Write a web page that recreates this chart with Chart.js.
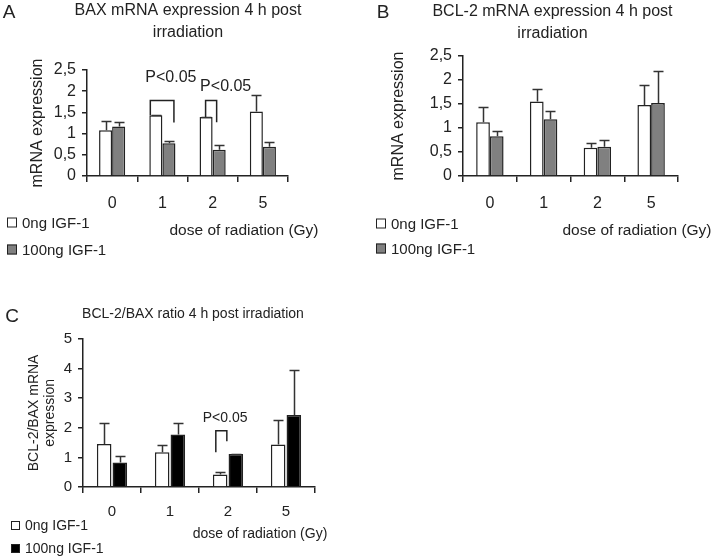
<!DOCTYPE html>
<html>
<head>
<meta charset="utf-8">
<script src="https://cdn.jsdelivr.net/npm/chart.js@4"></script>
<style>
    body { margin: 0; width: 716px; height: 557px; overflow: hidden; background: #fff; position: relative;
           font-family: "Liberation Sans", Arial, sans-serif; color: #222; }
    canvas { position: absolute; }
    .txt { position: absolute; white-space: nowrap; line-height: 1; transform: translate(-50%, -50%); }
    .leg { position: absolute; white-space: nowrap; line-height: 1; transform: translateY(-50%); }
    .box { display: inline-block; width: 8px; height: 8px; border: 1px solid #222; margin-right: 5px; vertical-align: 0; }
</style>
</head>
<body>
<canvas id="chartA" width="376" height="280" style="left:0;top:0"></canvas>
<canvas id="chartB" width="385" height="280" style="left:360px;top:0"></canvas>
<canvas id="chartC" width="386" height="277" style="left:0;top:280px"></canvas>

<div class="txt" style="left:9px;top:11px;font-size:19px">A</div>
<div class="txt" style="left:383px;top:11px;font-size:19px">B</div>
<div class="txt" style="left:12px;top:315px;font-size:19px">C</div>

<div class="leg" style="left:7px;top:222px;font-size:15px"><span class="box"></span>0ng IGF-1</div>
<div class="leg" style="left:7px;top:249px;font-size:15px"><span class="box" style="background:#808080"></span>100ng IGF-1</div>
<div class="txt" style="left:244px;top:230px;font-size:15.5px">dose of radiation (Gy)</div>

<div class="leg" style="left:376px;top:223px;font-size:15px"><span class="box"></span>0ng IGF-1</div>
<div class="leg" style="left:376px;top:248px;font-size:15px"><span class="box" style="background:#808080"></span>100ng IGF-1</div>
<div class="txt" style="left:637px;top:230px;font-size:15.5px">dose of radiation (Gy)</div>

<div class="leg" style="left:11px;top:525px;font-size:14px"><span class="box" style="width:7px;height:7px"></span>0ng IGF-1</div>
<div class="leg" style="left:11px;top:548px;font-size:14px"><span class="box" style="width:7px;height:7px;background:#000"></span>100ng IGF-1</div>
<div class="txt" style="left:260px;top:533px;font-size:14px">dose of radiation (Gy)</div>

<script>
// data
const categories = ['0', '1', '2', '5'];
const seriesNames = ['0ng IGF-1', '100ng IGF-1'];

const baxControl = [1.08, 1.43, 1.39, 1.52];
const baxControlSd = [0.22, 0.02, 0.01, 0.38];
const baxIgf = [1.17, 0.77, 0.62, 0.69];
const baxIgfSd = [0.10, 0.06, 0.11, 0.11];

const bcl2Control = [1.12, 1.55, 0.59, 1.48];
const bcl2ControlSd = [0.31, 0.26, 0.09, 0.42];
const bcl2Igf = [0.83, 1.18, 0.61, 1.52];
const bcl2IgfSd = [0.11, 0.18, 0.15, 0.66];

const ratioControl = [1.45, 1.17, 0.42, 1.43];
const ratioControlSd = [0.72, 0.26, 0.08, 0.84];
const ratioIgf = [0.83, 1.77, 1.11, 2.43];
const ratioIgfSd = [0.20, 0.40, 0.01, 1.51];

const yTicksExpr = ['0', '0,5', '1', '1,5', '2', '2,5'];
const yTicksRatio = ['0', '1', '2', '3', '4', '5'];

// significance brackets: category, x offsets (in category widths), y values of top and legs
const baxBrackets = [
    { cat: 1, from: -0.24, to: 0.23, top: 1.78, left: 1.43, right: 1.26, label: 'P<0.05', lx: 0.17, ly: 2.31 },
    { cat: 2, from: -0.14, to: 0.08, top: 1.78, left: 1.39, right: 1.27, label: 'P<0.05', lx: 0.26, ly: 2.11 }
];
const ratioBrackets = [
    { cat: 2, from: -0.21, to: -0.02, top: 1.90, left: 1.17, right: 1.54, label: 'P<0.05', lx: -0.05, ly: 2.32 }
];

Chart.defaults.font.family = "'Liberation Sans', Arial, sans-serif";
Chart.defaults.color = '#222';

const errorBars = {
    id: 'errorBars',
    afterDatasetsDraw(chart, args, opts) {
        const ctx = chart.ctx;
        const y = chart.scales.y;
        ctx.save();
        ctx.strokeStyle = opts.color;
        ctx.lineWidth = opts.width;
        chart.data.datasets.forEach((ds, i) => {
            chart.getDatasetMeta(i).data.forEach((bar, j) => {
                const top = Math.round(y.getPixelForValue(ds.data[j] + ds.sd[j])) + 0.5;
                const x = Math.round(bar.x) + 0.5;
                ctx.beginPath();
                ctx.moveTo(x, bar.y);
                ctx.lineTo(x, top);
                ctx.moveTo(x - opts.cap, top);
                ctx.lineTo(x + opts.cap, top);
                ctx.stroke();
            });
        });
        ctx.restore();
    }
};

const brackets = {
    id: 'brackets',
    afterDatasetsDraw(chart, args, opts) {
        const ctx = chart.ctx;
        const x = chart.scales.x, y = chart.scales.y;
        const cw = x.width / chart.data.labels.length;
        ctx.save();
        ctx.strokeStyle = '#222';
        ctx.lineWidth = 1.5;
        ctx.fillStyle = '#222';
        ctx.font = opts.font + "px 'Liberation Sans', Arial, sans-serif";
        ctx.textAlign = 'center';
        ctx.textBaseline = 'middle';
        opts.items.forEach(b => {
            const c = x.getPixelForValue(b.cat);
            const x1 = c + b.from * cw, x2 = c + b.to * cw;
            const yt = y.getPixelForValue(b.top);
            ctx.beginPath();
            ctx.moveTo(x1, y.getPixelForValue(b.left));
            ctx.lineTo(x1, yt);
            ctx.lineTo(x2, yt);
            ctx.lineTo(x2, y.getPixelForValue(b.right));
            ctx.stroke();
            ctx.fillText(b.label, c + b.lx * cw, y.getPixelForValue(b.ly));
        });
        ctx.restore();
    }
};

function drawPanel(id, p) {
    new Chart(document.getElementById(id), {
        type: 'bar',
        data: {
            labels: categories,
            datasets: [
                { label: seriesNames[0], data: p.control, sd: p.controlSd, backgroundColor: '#ffffff',
                  borderColor: '#222', borderWidth: 1.5, barPercentage: p.barPct, categoryPercentage: p.catPct },
                { label: seriesNames[1], data: p.igf, sd: p.igfSd, backgroundColor: p.fill,
                  borderColor: '#222', borderWidth: 1.5, barPercentage: p.barPct, categoryPercentage: p.catPct }
            ]
        },
        options: {
            responsive: false,
            animation: false,
            layout: { padding: 0 },
            plugins: {
                legend: { display: false },
                tooltip: { enabled: false },
                title: {
                    display: true,
                    text: p.title,
                    color: '#222',
                    font: { size: p.titleSize, weight: 'normal', lineHeight: p.titleLine },
                    padding: p.titlePad
                },
                errorBars: { color: '#333', width: 1.5, cap: 5 },
                brackets: { items: p.brackets, font: p.titleSize }
            },
            scales: {
                x: {
                    grid: { display: true, drawOnChartArea: false, offset: true, tickLength: 6, color: '#222', lineWidth: 1.5 },
                    border: { display: true, color: '#222', width: 1.5 },
                    ticks: { font: { size: p.tickSize }, padding: p.xTickPad, color: '#222' },
                    afterFit: s => { s.height = p.xHeight; }
                },
                y: {
                    min: 0,
                    max: p.max,
                    grid: { display: true, drawOnChartArea: false, tickLength: 5, color: '#222', lineWidth: 1.5 },
                    border: { display: true, color: '#222', width: 1.5 },
                    ticks: {
                        stepSize: p.step,
                        autoSkip: false,
                        font: { size: p.tickSize },
                        padding: 6,
                        color: '#222',
                        callback: (v, i) => p.yTicks[i]
                    },
                    title: {
                        display: true,
                        text: p.yTitle,
                        font: { size: p.yTitleSize, lineHeight: p.yTitleLine },
                        color: '#222',
                        padding: { top: p.yTitlePad, bottom: 0 }
                    },
                    afterFit: s => { s.width = p.yWidth; }
                },
                spacer: {
                    position: 'right',
                    display: true,
                    grid: { display: false },
                    border: { display: false },
                    ticks: { display: false },
                    afterFit: s => { s.width = p.rightSpace; }
                }
            }
        },
        plugins: [errorBars, brackets]
    });
}

drawPanel('chartA', {
    title: ['BAX mRNA expression 4 h post', 'irradiation'], titleSize: 16, titleLine: 1.375,
    titlePad: { top: 0, bottom: 26 },
    control: baxControl, controlSd: baxControlSd, igf: baxIgf, igfSd: baxIgfSd, fill: '#808080',
    max: 2.5, step: 0.5, yTicks: yTicksExpr, tickSize: 16, xTickPad: 12,
    yTitle: 'mRNA expression', yTitleSize: 16, yTitleLine: 1.2, yTitlePad: 28,
    yWidth: 87, xHeight: 104, rightSpace: 88, barPct: 1, catPct: 0.52, brackets: baxBrackets
});

drawPanel('chartB', {
    title: ['BCL-2 mRNA expression 4 h post', 'irradiation'], titleSize: 16, titleLine: 1.375,
    titlePad: { top: 1, bottom: 11 },
    control: bcl2Control, controlSd: bcl2ControlSd, igf: bcl2Igf, igfSd: bcl2IgfSd, fill: '#808080',
    max: 2.5, step: 0.5, yTicks: yTicksExpr, tickSize: 16, xTickPad: 12,
    yTitle: 'mRNA expression', yTitleSize: 16, yTitleLine: 1.2, yTitlePad: 29,
    yWidth: 103, xHeight: 104, rightSpace: 67, barPct: 1, catPct: 0.51, brackets: []
});

drawPanel('chartC', {
    title: 'BCL-2/BAX ratio 4 h post irradiation', titleSize: 14, titleLine: 1.2,
    titlePad: { top: 26, bottom: 16 },
    control: ratioControl, controlSd: ratioControlSd, igf: ratioIgf, igfSd: ratioIgfSd, fill: '#000000',
    max: 5, step: 1, yTicks: yTicksRatio, tickSize: 15, xTickPad: 10,
    yTitle: ['BCL-2/BAX mRNA', 'expression'], yTitleSize: 14, yTitleLine: 1.143, yTitlePad: 26,
    yWidth: 83, xHeight: 70, rightSpace: 71, barPct: 0.93, catPct: 0.54, brackets: ratioBrackets
});
</script>
</body>
</html>
